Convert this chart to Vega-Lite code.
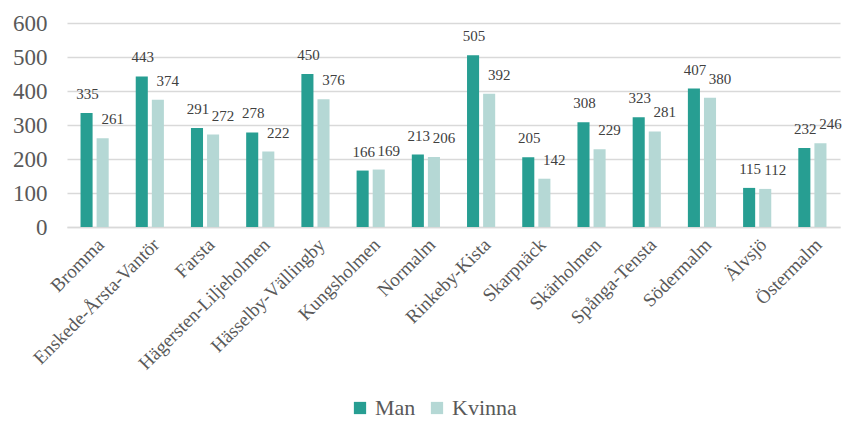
{
  "$schema": "https://vega.github.io/schema/vega-lite/v6.json",
  "width": 773,
  "height": 204,
  "autosize": {"type": "none"},
  "padding": {"left": 67, "top": 23, "right": 7, "bottom": 194},
  "background": "white",
  "config": {
    "font": "Liberation Serif, serif",
    "view": {"stroke": null}
  },
  "data": {
    "values": [
      {"district": "Bromma", "kon": "Man", "value": 335},
      {"district": "Bromma", "kon": "Kvinna", "value": 261},
      {"district": "Enskede-Årsta-Vantör", "kon": "Man", "value": 443},
      {"district": "Enskede-Årsta-Vantör", "kon": "Kvinna", "value": 374},
      {"district": "Farsta", "kon": "Man", "value": 291},
      {"district": "Farsta", "kon": "Kvinna", "value": 272},
      {"district": "Hägersten-Liljeholmen", "kon": "Man", "value": 278},
      {"district": "Hägersten-Liljeholmen", "kon": "Kvinna", "value": 222},
      {"district": "Hässelby-Vällingby", "kon": "Man", "value": 450},
      {"district": "Hässelby-Vällingby", "kon": "Kvinna", "value": 376},
      {"district": "Kungsholmen", "kon": "Man", "value": 166},
      {"district": "Kungsholmen", "kon": "Kvinna", "value": 169},
      {"district": "Normalm", "kon": "Man", "value": 213},
      {"district": "Normalm", "kon": "Kvinna", "value": 206},
      {"district": "Rinkeby-Kista", "kon": "Man", "value": 505},
      {"district": "Rinkeby-Kista", "kon": "Kvinna", "value": 392},
      {"district": "Skarpnäck", "kon": "Man", "value": 205},
      {"district": "Skarpnäck", "kon": "Kvinna", "value": 142},
      {"district": "Skärholmen", "kon": "Man", "value": 308},
      {"district": "Skärholmen", "kon": "Kvinna", "value": 229},
      {"district": "Spånga-Tensta", "kon": "Man", "value": 323},
      {"district": "Spånga-Tensta", "kon": "Kvinna", "value": 281},
      {"district": "Södermalm", "kon": "Man", "value": 407},
      {"district": "Södermalm", "kon": "Kvinna", "value": 380},
      {"district": "Älvsjö", "kon": "Man", "value": 115},
      {"district": "Älvsjö", "kon": "Kvinna", "value": 112},
      {"district": "Östermalm", "kon": "Man", "value": 232},
      {"district": "Östermalm", "kon": "Kvinna", "value": 246}
    ]
  },
  "encoding": {
    "x": {
      "field": "district",
      "type": "nominal",
      "sort": null,
      "scale": {"paddingInner": 0.49, "paddingOuter": 0.245},
      "axis": {
        "title": null,
        "labelAngle": -45,
        "labelFont": "Liberation Serif, serif",
        "labelFontSize": 19,
        "labelColor": "#595959",
        "labelPadding": 8,
        "ticks": false,
        "domainColor": "#d9d9d9",
        "domainWidth": 1.5,
        "labelLimit": 300
      }
    },
    "xOffset": {
      "field": "kon",
      "type": "nominal",
      "sort": ["Man", "Kvinna"],
      "scale": {"paddingInner": 0.25, "paddingOuter": 0}
    },
    "y": {
      "field": "value",
      "type": "quantitative",
      "scale": {"domain": [0, 600]},
      "axis": {
        "title": null,
        "values": [0, 100, 200, 300, 400, 500, 600],
        "labelFont": "Liberation Serif, serif",
        "labelFontSize": 23,
        "labelColor": "#595959",
        "labelPadding": 20,
        "ticks": false,
        "domain": false,
        "gridColor": "#d9d9d9",
        "gridWidth": 1.5
      }
    }
  },
  "layer": [
    {
      "mark": {"type": "bar"},
      "encoding": {
        "color": {
          "field": "kon",
          "type": "nominal",
          "sort": ["Man", "Kvinna"],
          "scale": {"domain": ["Man", "Kvinna"], "range": ["#279e92", "#b5d8d5"]},
          "legend": {
            "title": null,
            "orient": "none",
            "direction": "horizontal",
            "legendX": 282,
            "legendY": 374,
            "symbolType": "square",
            "symbolSize": 150,
            "symbolStrokeWidth": 0,
            "labelFont": "Liberation Serif, serif",
            "labelFontSize": 22,
            "labelColor": "#595959",
            "columnPadding": 10,
            "labelOffset": 4
          }
        }
      }
    },
    {
      "transform": [{"filter": "datum.kon === 'Man'"}],
      "mark": {
        "type": "text",
        "baseline": "middle",
        "dy": -19,
        "dx": 1,
        "font": "Liberation Serif, serif",
        "fontSize": 15,
        "color": "#404040"
      },
      "encoding": {
        "text": {"field": "value", "type": "quantitative"}
      }
    },
    {
      "transform": [{"filter": "datum.kon === 'Kvinna'"}],
      "mark": {
        "type": "text",
        "baseline": "middle",
        "dy": -19,
        "dx": 10,
        "font": "Liberation Serif, serif",
        "fontSize": 15,
        "color": "#404040"
      },
      "encoding": {
        "text": {"field": "value", "type": "quantitative"}
      }
    }
  ]
}
